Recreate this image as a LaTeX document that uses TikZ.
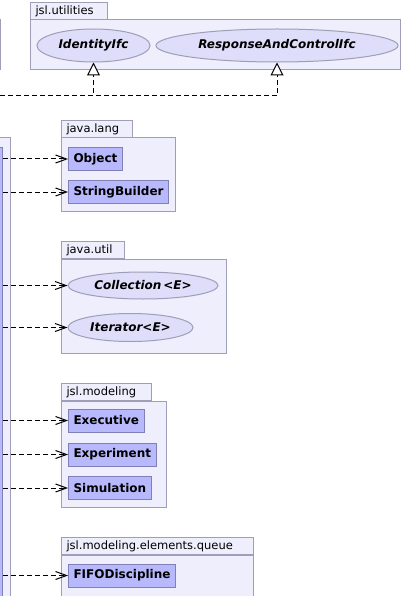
\documentclass[tikz,border=0pt]{standalone}
\usepackage{fontspec}
\setmainfont{DejaVu Sans}
\usetikzlibrary{shapes.geometric,arrows.meta}
\definecolor{pkgfill}{RGB}{238,238,252}
\definecolor{pkgline}{RGB}{158,158,184}
\definecolor{clsfill}{RGB}{184,184,252}
\definecolor{clsline}{RGB}{128,128,180}
\definecolor{ifcfill}{RGB}{222,222,250}
\tikzstyle{pkgbody} = [draw=pkgline, fill=pkgfill, line width=1pt]
\tikzstyle{pkgtab} = [rectangle, draw=pkgline, fill=pkgfill, line width=1pt, anchor=south west, minimum height=17pt,
inner xsep=5pt, inner ysep=0pt, align=left, font=\fontsize{11.5}{12}\selectfont]
\tikzstyle{cls} = [rectangle, draw=clsline, fill=clsfill, line width=1pt, anchor=west, minimum height=23pt,
inner xsep=5pt, font=\fontsize{12}{13}\selectfont\bfseries]
\tikzstyle{ifc} = [ellipse, draw=pkgline, fill=ifcfill, line width=1pt, inner sep=0pt,
font=\fontsize{12}{13}\selectfont\bfseries\itshape]
\tikzstyle{dep} = [line width=1pt, dash pattern=on 5pt off 3pt, -{Straight Barb[length=11pt,width=8pt]}]
\tikzstyle{real} = [line width=1pt, dash pattern=on 5pt off 3pt, -{Triangle[open,length=13pt,width=13pt,fill=white]}]

\begin{document}
\begin{tikzpicture}[x=1pt,y=-1pt]
                \useasboundingbox (0,0) rectangle (412,596);
                \draw [pkgbody] (-100,20) rectangle (0.5,70);
                \draw [pkgbody] (-100,138) rectangle (10,640);
                \node (src) [cls, anchor=north east, minimum width=80pt, minimum height=500pt] at (3,147) {};
                \draw [pkgbody] (30,20) rectangle (400,70);
                \node (utiltab) [pkgtab, text width=67pt] at (30,20) {jsl.utilities};
                \node (idf) [ifc, minimum width=113pt, minimum height=33pt] at (93.5,45.5) {IdentityIfc};
                \node (rac) [ifc, minimum width=242pt, minimum height=33pt] at (277,45.5) {ResponseAndControlIfc};
                \draw [pkgbody] (61,138) rectangle (175,211);
                \node (langtab) [pkgtab, text width=61pt] at (61,138) {java.lang};
                \node (obj) [cls] at (68,159) {Object};
                \node (sb) [cls] at (68,192) {StringBuilder};
                \draw [pkgbody] (61,259) rectangle (226,353);
                \node (jutiltab) [pkgtab, text width=53pt] at (61,259) {java.util};
                \node (coll) [ifc, minimum width=150pt, minimum height=27pt] at (143,285.5) {Collection\,<E>};
                \node (iter) [ifc, minimum width=125pt, minimum height=28pt] at (130.5,327.5) {Iterator<E>};
                \draw [pkgbody] (61,401) rectangle (166,507);
                \node (modtab) [pkgtab, text width=80pt] at (61,401) {jsl.modeling};
                \node (exec) [cls] at (68,420.5) {Executive};
                \node (expt) [cls] at (68,454.5) {Experiment};
                \node (simu) [cls] at (68,488) {Simulation};
                \draw [pkgbody] (61,555) rectangle (253,640);
                \node (queuetab) [pkgtab, text width=182pt] at (61,555) {jsl.modeling.elements.queue};
                \node (fifo) [cls] at (68,575.5) {FIFODiscipline};
                \coordinate (rsrc) at (0,96);
                \draw [real] (rsrc) -| (idf);
                \draw [real] (rsrc) -| (rac);
                \draw [dep] (src.east |- obj) -- (obj);
                \draw [dep] (src.east |- sb) -- (sb);
                \draw [dep] (src.east |- coll) -- (coll);
                \draw [dep] (src.east |- iter) -- (iter);
                \draw [dep] (src.east |- exec) -- (exec);
                \draw [dep] (src.east |- expt) -- (expt);
                \draw [dep] (src.east |- simu) -- (simu);
                \draw [dep] (src.east |- fifo) -- (fifo);
            \end{tikzpicture}
\end{document}
